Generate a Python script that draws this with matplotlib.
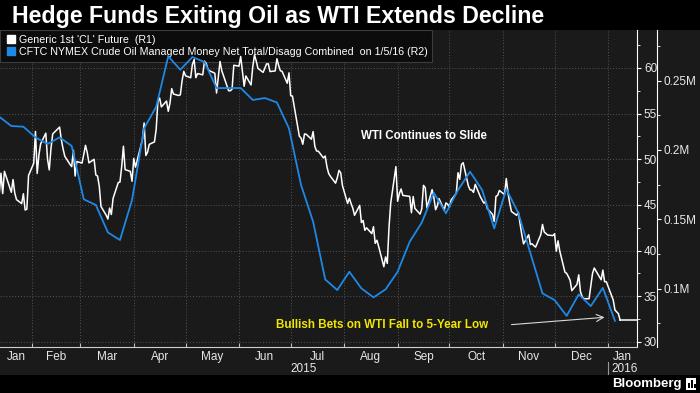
import pandas as pd
import matplotlib
matplotlib.use("Agg")
import matplotlib.pyplot as plt
import matplotlib.dates as mdates
import matplotlib.transforms as mtransforms
from matplotlib.lines import Line2D
from matplotlib.patches import Rectangle
from matplotlib.ticker import MultipleLocator, FuncFormatter, NullFormatter

plt.rcParams["font.family"] = ["Liberation Sans", "DejaVu Sans"]

title = "Hedge Funds Exiting Oil as WTI Extends Decline"
wti_label = "Generic 1st 'CL' Future  (R1)"
cftc_label = "CFTC NYMEX Crude Oil Managed Money Net Total/Disagg Combined  on 1/5/16 (R2)"

# Generic 1st 'CL' Future, daily (R1), one list per month
wti_2015_01 = [46.25, 48.48, 46.25, 48.69, 46.39, 47.78, 46.31, 45.59, 45.15, 46.23, 44.45, 44.53, 48.24]
wti_2015_02 = [49.57, 53.05, 48.45, 50.48, 51.69, 52.86, 50.02, 48.84, 51.21, 52.78, 53.53, 52.14, 51.16,
               50.34, 49.45, 49.20, 50.99, 48.17, 49.76]
wti_2015_03 = [49.59, 50.52, 51.53, 50.76, 49.61, 50.00, 48.29, 48.17, 47.05, 44.84, 43.88, 43.46, 44.66,
               43.96, 45.72, 47.45, 47.51, 49.21, 51.43, 48.87, 48.68, 47.60]
wti_2015_04 = [50.09, 49.14, 52.14, 53.98, 50.42, 50.79, 51.64, 51.91, 53.29, 56.39, 56.71, 55.74, 56.38,
               55.26, 56.16, 57.74, 57.15, 56.99, 57.06, 58.58, 59.63]
wti_2015_05 = [59.15, 58.93, 60.40, 60.93, 58.94, 59.39, 59.25, 60.75, 60.50, 59.88, 59.69, 59.43, 57.26,
               58.98, 60.72, 59.72, 57.51, 57.51, 57.68, 60.30]
wti_2015_06 = [60.20, 61.26, 59.64, 58.00, 59.13, 58.14, 60.14, 61.43, 60.77, 59.96, 59.52, 59.97, 60.45,
               60.45, 59.61, 59.68, 61.01, 60.27, 59.70, 59.63, 58.33, 59.47]
wti_2015_07 = [56.96, 56.93, 52.53, 52.33, 51.65, 52.78, 52.74, 52.20, 53.04, 51.41, 50.91, 50.89, 50.15,
               50.36, 49.19, 48.45, 48.14, 47.39, 47.98, 48.79, 48.52, 47.12]
wti_2015_08 = [45.17, 45.74, 45.15, 44.66, 43.87, 44.96, 43.08, 43.30, 42.23, 42.50, 41.87, 42.62, 40.80,
               41.14, 40.45, 38.24, 39.31, 38.60, 42.56, 45.22, 49.20]
wti_2015_09 = [45.41, 46.25, 46.75, 46.05, 45.94, 44.15, 45.92, 44.63, 44.00, 44.59, 47.15, 46.90, 44.68,
               46.68, 45.83, 44.48, 44.91, 45.70, 44.43, 45.23, 45.09]
wti_2015_10 = [44.74, 45.54, 46.26, 48.53, 47.81, 49.43, 49.63, 47.10, 46.66, 46.64, 46.38, 47.26, 45.89,
               45.55, 45.20, 45.38, 44.60, 43.98, 43.20, 45.94, 46.06, 46.59]
wti_2015_11 = [46.14, 47.90, 46.32, 45.20, 44.29, 43.87, 44.21, 42.93, 41.75, 40.74, 41.74, 40.67, 40.75,
               40.54, 40.39, 41.75, 42.87, 42.04, 41.71, 41.65]
wti_2015_12 = [41.85, 39.94, 41.08, 39.97, 37.65, 37.51, 37.16, 36.76, 35.62, 36.31, 37.35, 35.52, 34.95,
               34.73, 34.74, 36.14, 37.50, 38.10, 36.81, 37.87, 36.60, 36.60]
wti_2016_01 = [34.6, 33.5, 33.3, 33.1, 32.4]

holidays = ["2015-01-19", "2015-02-16", "2015-04-03", "2015-05-25", "2015-07-03",
            "2015-09-07", "2015-11-26", "2015-12-25", "2016-01-01"]

# CFTC managed money net, weekly from 1/13/15, thousands of contracts (R2)
cftc_net = [224.0, 217.3, 216.8, 209.1, 204.3, 209.1, 202.9, 164.4, 160.3, 140.5,
            135.0, 163.9, 215.6, 231.2, 267.6, 257.9, 267.1, 263.5, 244.7, 244.7,
            244.7, 236.1, 237.5, 234.3, 215.6, 174.7, 148.2, 106.6, 98.9, 112.1,
            100.1, 93.6, 99.4, 112.1, 133.8, 147.6, 169.1, 154.3, 171.1, 184.3,
            171.1, 143.4, 171.8, 154.5, 125.4, 96.5, 91.7, 80.3, 95.8, 87.3,
            100.5, 76.7]

month_names = ["Jan", "Feb", "Mar", "Apr", "May", "Jun", "Jul", "Aug", "Sep", "Oct", "Nov", "Dec", "Jan"]

PANEL = "#1a1a1a"
BLUE = "#1e88e5"
YELLOW = "#f2e600"
TXT = "#e8e8e8"

wti = (wti_2015_01 + wti_2015_02 + wti_2015_03 + wti_2015_04 + wti_2015_05 + wti_2015_06
       + wti_2015_07 + wti_2015_08 + wti_2015_09 + wti_2015_10 + wti_2015_11 + wti_2015_12
       + wti_2016_01)
wti_dates = pd.bdate_range("2015-01-13", "2016-01-08")
wti_dates = wti_dates[~wti_dates.isin(pd.to_datetime(holidays))]
cftc_dates = pd.date_range("2015-01-13", periods=len(cftc_net), freq="7D")

x_left = pd.Timestamp("2015-01-13 10:30")
x_right = pd.Timestamp("2016-01-17 19:00")

fig = plt.figure(figsize=(7, 3.93), dpi=100, facecolor="black")
fig.add_artist(Rectangle((0, 18 / 393), 1, 345 / 393, transform=fig.transFigure,
                         facecolor=PANEL, edgecolor="none", zorder=-5))

ax = fig.add_axes([0, 46 / 393, 637 / 700, 317 / 393])
ax.set_facecolor(PANEL)
ax2 = ax.twinx()

ax.plot(wti_dates, wti, color="white", lw=1.1, zorder=3)
# last price carried to the right edge
ax.plot([wti_dates[-1], x_right], [wti[-1], wti[-1]], color="white", lw=1.1, zorder=3)
ax2.plot(cftc_dates, cftc_net, color=BLUE, lw=1.3)

ax.set_xlim(x_left, x_right)
ax.set_ylim(29.45, 64.16)
ax2.set_ylim(57.8, 286.6)

# x axis: ticks at month starts, labels centred in each month
ax.xaxis.set_major_locator(mdates.MonthLocator())
ax.xaxis.set_major_formatter(NullFormatter())
bounds = [x_left] + list(pd.date_range("2015-02-01", "2016-01-01", freq="MS")) + [x_right]
centers = [a + (b - a) / 2 for a, b in zip(bounds[:-1], bounds[1:])]
ax.set_xticks(mdates.date2num(centers), minor=True)
ax.set_xticklabels(month_names, minor=True)
ax.tick_params(axis="x", which="major", direction="in", length=3, color="#bbbbbb")
ax.tick_params(axis="x", which="minor", length=0, pad=3, labelsize=8.5, labelcolor=TXT)

# R1
ax.yaxis.tick_right()
ax.yaxis.set_major_locator(MultipleLocator(5))
ax.yaxis.set_minor_locator(MultipleLocator(2.5))
ax.tick_params(axis="y", which="both", direction="out", color="white", labelcolor=TXT,
               labelsize=8.5, pad=2)
ax.tick_params(axis="y", which="major", length=3)
ax.tick_params(axis="y", which="minor", length=2)

# R2
ax2.yaxis.set_major_locator(MultipleLocator(50))
ax2.yaxis.set_minor_locator(MultipleLocator(25))
ax2.yaxis.set_major_formatter(FuncFormatter(lambda v, p: f"{v / 1000:g}M"))
ax2.tick_params(axis="y", which="both", direction="out", color="white", labelcolor=TXT,
                labelsize=8.5, pad=2)
ax2.tick_params(axis="y", which="major", length=3)
ax2.tick_params(axis="y", which="minor", length=2)

for s in ["top", "left"]:
    ax.spines[s].set_visible(False)
    ax2.spines[s].set_visible(False)
ax2.spines["bottom"].set_visible(False)
ax.spines["bottom"].set_color("#cfcfcf")
ax.spines["right"].set_color("white")
ax2.spines["right"].set_color("white")
ax2.spines["right"].set_position(("outward", 14.4))
for s in [ax.spines["bottom"], ax.spines["right"], ax2.spines["right"]]:
    s.set_linewidth(0.8)

ax.grid(True, which="major", axis="both", color="#555555", linestyle=(0, (1, 2)), linewidth=0.7)
ax.set_axisbelow(True)

handles = [Line2D([], [], ls="none", marker="s", ms=5.5, color="white"),
           Line2D([], [], ls="none", marker="s", ms=5.5, color=BLUE)]
leg = ax.legend(handles, [wti_label, cftc_label], loc="upper left", bbox_to_anchor=(0, 1),
                borderaxespad=0, fancybox=False, framealpha=1, facecolor="#0c0c0c",
                edgecolor="#3c3c3c", fontsize=7.7, labelcolor="white", handlelength=1.1,
                handletextpad=0.2, labelspacing=0.2, borderpad=0.45)
leg.set_zorder(1)
leg.get_frame().set_linewidth(0.8)

ax.text(mdates.date2num(pd.Timestamp("2015-09-16")), 52.6, "WTI Continues to Slide",
        color="white", fontsize=8.3, fontweight="bold", ha="center", va="center", zorder=4)
ax.text(mdates.date2num(pd.Timestamp("2015-08-23")), 31.9, "Bullish Bets on WTI Fall to 5-Year Low",
        color=YELLOW, fontsize=8.4, fontweight="bold", ha="center", va="center", zorder=4)
ax.annotate("", xy=(mdates.date2num(pd.Timestamp("2015-12-30")), 32.7),
            xytext=(mdates.date2num(pd.Timestamp("2015-11-06")), 31.9),
            arrowprops=dict(arrowstyle="->,head_length=0.5,head_width=0.25", color="#d8d8d8",
                            lw=0.8, shrinkA=0, shrinkB=0), zorder=4)

# year labels under the month labels
trans = mtransforms.blended_transform_factory(ax.transData, fig.transFigure)
jan16 = mdates.date2num(pd.Timestamp("2016-01-01"))
mid15 = (mdates.date2num(x_left) + jan16) / 2
fig.text(mid15, 1 - 369 / 393, "2015", transform=trans, ha="center", va="center",
         color=TXT, fontsize=8.5)
t16 = fig.text(jan16 + 2, 1 - 369 / 393, "2016", transform=trans, ha="left", va="center",
               color=TXT, fontsize=8.5)
t16.set_clip_box(mtransforms.TransformedBbox(mtransforms.Bbox([[0, 0], [637 / 700, 1]]),
                                             fig.transFigure))
t16.set_clip_on(True)
fig.add_artist(Line2D([jan16, jan16], [1 - 374 / 393, 1 - 362 / 393], transform=trans,
                      color="#9a9a9a", lw=0.8))

fig.text(12 / 700, 1 - 16 / 393, title, color="white", fontsize=16.7, fontweight="bold",
         ha="left", va="center")

fig.text(682 / 700, 1 - 384 / 393, "Bloomberg", ha="right", va="center", color="white",
         fontsize=9.5, fontweight="bold")
fig.add_artist(Rectangle((686 / 700, 1 - 390 / 393), 10 / 700, 12 / 393,
                         transform=fig.transFigure, facecolor="white", edgecolor="none"))
for bx, bh in [(688, 5), (691, 8), (694, 4)]:
    fig.add_artist(Rectangle((bx / 700, 1 - 388 / 393), 1.5 / 700, bh / 393,
                             transform=fig.transFigure, facecolor="black", edgecolor="none"))

fig.savefig("out.png", dpi=100, facecolor="black")
